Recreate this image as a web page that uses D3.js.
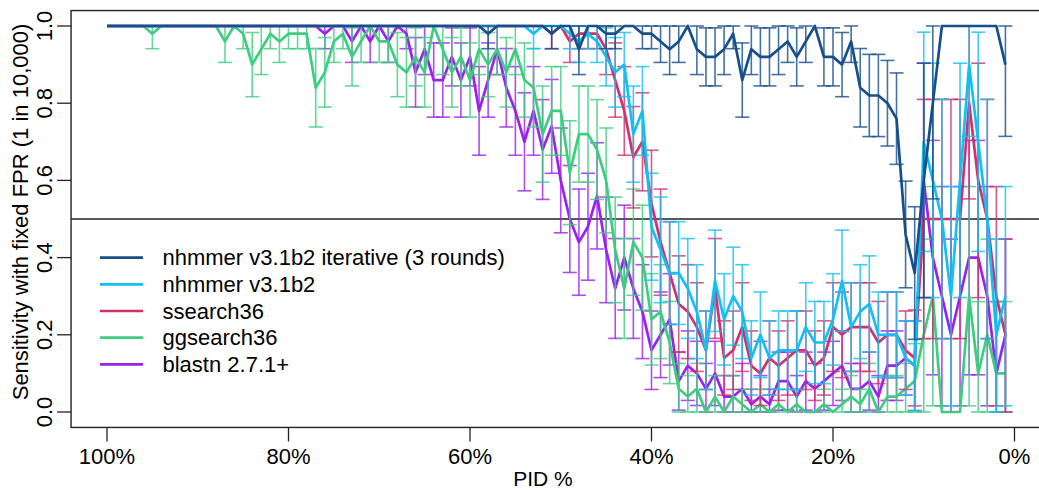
<!DOCTYPE html>
<html>
<head>
<meta charset="utf-8">
<script src="https://cdn.jsdelivr.net/npm/d3@7"></script>
<style>
  body { margin: 0; background: #fff; overflow: hidden; }
  text { font-family: "Liberation Sans", Arial, Helvetica, sans-serif; fill: #000; }
</style>
</head>
<body>
<div id="chart"></div>
<script>
// percent identity bins, 100 down to 1
const pid = [100,99,98,97,96,95,94,93,92,91, 90,89,88,87,86,85,84,83,82,81,
  80,79,78,77,76,75,74,73,72,71, 70,69,68,67,66,65,64,63,62,61,
  60,59,58,57,56,55,54,53,52,51, 50,49,48,47,46,45,44,43,42,41,
  40,39,38,37,36,35,34,33,32,31, 30,29,28,27,26,25,24,23,22,21,
  20,19,18,17,16,15,14,13,12,11, 10,9,8,7,6,5,4,3,2,1];

// number of test sequences per bin (sets error bar width)
const nSeq = [50,50,50,50,50,50,50,50,50,50, 50,50,50,50,50,50,50,50,50,50,
  50,50,50,50,50,50,50,50,50,50, 50,50,50,50,50,50,50,50,50,50,
  50,50,50,50,50,50,50,50,50,50, 50,50,50,50,50,50,50,50,50,50,
  50,50,50,50,50,50,50,50,50,50, 50,50,50,50,50,50,50,50,50,50,
  50,50,50,50,50,50,50,50,50,30, 10,10,10,10,10,10,10,10,10,10];

const iterative = [1,1,1,1,1,1,1,1,1,1, 1,1,1,1,1,1,1,1,1,1,
  1,1,1,1,1,1,1,1,1,1, 1,1,1,1,1,1,1,1,1,1,
  1,1,.98,1,1,1,1,1,1,.98, 1,1,.94,1,1,.98,.98,1,1,.98,
  .98,.96,.94,.96,1,.94,.92,.92,.94,.98, .86,.94,.92,.92,.94,.96,.92,.96,1,.92,
  .92,.9,.96,.84,.82,.82,.8,.76,.46,.36, .6,.8,1,1,1,1,1,1,1,.9];

const nhmmer = [1,1,1,1,1,1,1,1,1,1, 1,1,1,1,1,1,1,1,1,1,
  1,1,1,1,1,1,1,1,1,1, 1,1,1,1,1,1,1,1,1,1,
  1,1,1,1,1,1,1,.98,1,1, 1,.98,.96,.98,.96,.92,.88,.9,.72,.78,
  .48,.42,.36,.36,.32,.26,.16,.34,.24,.3, .26,.14,.2,.14,.16,.16,.16,.22,.18,.18,
  .24,.34,.22,.26,.28,.2,.2,.2,.14,.12, .7,.6,.5,.3,.6,.9,.7,.5,.2,.3];

const ssearch = [1,1,1,1,1,1,1,1,1,1, 1,1,1,1,1,1,1,1,1,1,
  1,1,1,1,1,1,1,1,1,1, 1,1,1,1,1,1,1,1,1,1,
  1,1,1,1,1,1,1,1,1,.98, 1,.96,.98,.98,.98,.94,.86,.78,.66,.7,
  .54,.44,.36,.28,.26,.22,.16,.32,.14,.16, .22,.12,.1,.14,.12,.14,.16,.16,.12,.14,
  .22,.2,.22,.22,.22,.18,.2,.2,.16,.14, .5,.5,.5,.5,.5,.8,.6,.5,.3,.2];

const ggsearch = [1,1,1,1,1,.98,1,1,1,1, 1,1,1,.96,1,.98,.9,.94,.98,.96,
  .98,.98,.98,.84,.88,.96,.98,.92,.96,1, .96,.96,.9,.88,.92,.88,1,.94,.88,.92,
  .86,.94,.9,.94,.88,.94,.86,.84,.72,.78, .78,.62,.72,.72,.68,.6,.42,.32,.44,.4,
  .24,.26,.18,.06,.04,.06,0,.04,0,.04, .02,0,.02,0,.02,0,.02,0,0,.02,
  0,.02,.04,.02,.06,0,.04,.04,.06,.08, .2,.3,0,0,0,.3,.1,.2,.1,.1];

const blastn = [1,1,1,1,1,1,1,1,1,1, 1,1,1,1,1,1,1,1,1,1,
  1,1,1,1,.98,1,1,.96,1,.96, 1,.96,1,.98,.88,.94,.86,.86,.92,.86,
  .92,.78,.86,.94,.84,.78,.7,.78,.68,.74, .6,.5,.44,.48,.56,.42,.32,.4,.32,.26,
  .16,.2,.24,.08,.12,.1,.06,.1,.04,.04, .06,.02,.04,.02,.08,.08,.04,.08,.06,.08,
  .1,.12,.06,.06,.08,.04,.12,.12,.14,.12, .6,.4,.3,.2,.3,.4,.4,.3,.1,.2];

const names = ["nhmmer v3.1b2 iterative (3 rounds)", "nhmmer v3.1b2", "ssearch36", "ggsearch36", "blastn 2.7.1+"];
const colors = ["#174f8a", "#14bff2", "#d12f6e", "#3ecd80", "#9b21ee"];
const seriesVals = [iterative, nhmmer, ssearch, ggsearch, blastn];

const yTicks = [0, 0.2, 0.4, 0.6, 0.8, 1.0];
const xTicks = [100, 80, 60, 40, 20, 0];

const W = 1039, H = 491;

const x = d3.scaleLinear().domain([100, 0]).range([107, 1014.5]);
const y = d3.scaleLinear().domain([0, 1]).range([412, 26]);

const svg = d3.select("#chart").append("svg")
    .attr("width", W)
    .attr("height", H);

// plot region (R style 4% padding)
const bx0 = x(103.96), bx1 = x(-2.96), by0 = y(-0.04), by1 = y(1.04);

// horizontal reference at 0.5
svg.append("line")
    .attr("x1", bx0).attr("x2", bx1)
    .attr("y1", y(0.5)).attr("y2", y(0.5))
    .attr("stroke", "#222").attr("stroke-width", 1.4);

const plot = svg.append("g");
const line = d3.line().x(d => x(d.p)).y(d => y(d.v));

// draw back to front so iterative sits on top
for (let s = seriesVals.length - 1; s >= 0; s--) {
  const data = pid.map((p, i) => {
    const v = seriesVals[s][i];
    const hw = 1.96 * Math.sqrt(v * (1 - v) / nSeq[i]);
    return {p: p, v: v, lo: Math.max(0, v - hw), hi: Math.min(1, v + hw)};
  });
  const g = plot.append("g");
  const bars = data.filter(d => d.hi - d.lo > 1e-6);
  const eb = g.append("g")
      .attr("stroke", colors[s])
      .attr("stroke-opacity", 0.8)
      .attr("stroke-width", 1.6);
  eb.selectAll(".v").data(bars).enter().append("line")
      .attr("x1", d => x(d.p)).attr("x2", d => x(d.p))
      .attr("y1", d => y(d.lo)).attr("y2", d => y(d.hi));
  eb.selectAll(".lc").data(bars).enter().append("line")
      .attr("x1", d => x(d.p) - 7).attr("x2", d => x(d.p) + 7)
      .attr("y1", d => y(d.lo)).attr("y2", d => y(d.lo));
  eb.selectAll(".hc").data(bars).enter().append("line")
      .attr("x1", d => x(d.p) - 7).attr("x2", d => x(d.p) + 7)
      .attr("y1", d => y(d.hi)).attr("y2", d => y(d.hi));
  g.append("path")
      .datum(data)
      .attr("d", line)
      .attr("fill", "none")
      .attr("stroke", colors[s])
      .attr("stroke-width", 2.7)
      .attr("stroke-linejoin", "round");
}

// box
svg.append("rect")
    .attr("x", bx0).attr("y", by1)
    .attr("width", bx1 - bx0).attr("height", by0 - by1)
    .attr("fill", "none").attr("stroke", "#222").attr("stroke-width", 1.4);

// y axis
const ya = svg.append("g");
ya.selectAll("line").data(yTicks).enter().append("line")
    .attr("x1", bx0 - 14).attr("x2", bx0)
    .attr("y1", d => y(d)).attr("y2", d => y(d))
    .attr("stroke", "#222").attr("stroke-width", 1.3);
ya.selectAll("text").data(yTicks).enter().append("text")
    .attr("transform", d => `translate(52,${y(d)}) rotate(-90)`)
    .attr("text-anchor", "middle")
    .style("font-size", "22px")
    .text(d => d.toFixed(1));

// x axis
const xa = svg.append("g");
xa.selectAll("line").data(xTicks).enter().append("line")
    .attr("x1", d => x(d)).attr("x2", d => x(d))
    .attr("y1", by0).attr("y2", by0 + 14)
    .attr("stroke", "#222").attr("stroke-width", 1.3);
xa.selectAll("text").data(xTicks).enter().append("text")
    .attr("x", d => x(d)).attr("y", 463.5)
    .attr("text-anchor", "middle")
    .style("font-size", "22px")
    .text(d => d + "%");

svg.append("text")
    .attr("x", 543).attr("y", 486)
    .attr("text-anchor", "middle")
    .style("font-size", "21px")
    .text("PID %");

svg.append("text")
    .attr("transform", "translate(28,212) rotate(-90)")
    .attr("text-anchor", "middle")
    .style("font-size", "22px")
    .text("Sensitivity with fixed FPR (1 in 10,000)");

// legend
const leg = svg.append("g");
names.forEach((n, i) => {
  const ly = 257.7 + i * 26.65;
  leg.append("line")
      .attr("x1", 100).attr("x2", 143)
      .attr("y1", ly).attr("y2", ly)
      .attr("stroke", colors[i]).attr("stroke-width", 2.7);
  leg.append("text")
      .attr("x", 162.5).attr("y", ly)
      .attr("dy", "0.35em")
      .style("font-size", "22px")
      .text(n);
});
</script>
</body>
</html>
